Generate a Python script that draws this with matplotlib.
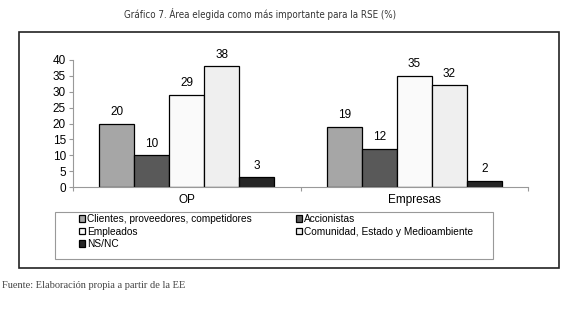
import matplotlib.pyplot as plt
import numpy as np
from matplotlib.patches import Rectangle

# data
groups = ['OP', 'Empresas']
series = ['Clientes, proveedores, competidores', 'Accionistas', 'Empleados',
          'Comunidad, Estado y Medioambiente', 'NS/NC']
op_vals = [20, 10, 29, 38, 3]
emp_vals = [19, 12, 35, 32, 2]
colors = ['#a6a6a6', '#595959', '#fafafa', '#efefef', '#262626']

W, H = 580, 310
fig = plt.figure(figsize=(5.8, 3.1), dpi=100)
plt.rcParams['font.family'] = ['Liberation Sans', 'DejaVu Sans']

def px(x0, y0, x1, y1):
    # pixel box -> figure fraction [left, bottom, width, height]
    return [x0 / W, 1 - y1 / H, (x1 - x0) / W, (y1 - y0) / H]

def box(x0, y0, x1, y1, **kw):
    fig.patches.append(Rectangle((x0 / W, 1 - y1 / H), (x1 - x0) / W, (y1 - y0) / H,
                                 transform=fig.transFigure, fill=False, **kw))

# outer frame + legend frame
box(19, 32, 559, 268, edgecolor='#222222', lw=1.2)
box(55, 212, 493, 259, edgecolor='#999999', lw=0.8)

ax = fig.add_axes(px(73, 60, 528, 187))
vals = np.array([op_vals, emp_vals])
n = len(series)
bw = 0.77 / n
x = np.arange(len(groups))
for i in range(n):
    pos = x - 0.385 + bw * (i + 0.5)
    bars = ax.bar(pos, vals[:, i], bw, color=colors[i], edgecolor='black',
                  lw=0.9, label=series[i])
    for b, v in zip(bars, vals[:, i]):
        ax.annotate(str(v), (b.get_x() + b.get_width() / 2, v), xytext=(0, 4),
                    textcoords='offset points', ha='center', va='bottom', fontsize=8.5)

ax.set_xlim(-0.5, 1.5)
ax.set_ylim(0, 40)
ax.set_yticks(range(0, 41, 5))
ax.set_xticks([-0.5, 0.5, 1.5])
ax.set_xticklabels([])
ax.tick_params(axis='x', length=3, color='#999999')
ax.tick_params(axis='y', length=3, color='#999999', labelsize=8.5, pad=2)
for g, xx in zip(groups, x):
    ax.text(xx, -2.2, g, ha='center', va='top', fontsize=8.5)
for s in ['top', 'right']:
    ax.spines[s].set_visible(False)
for s in ['left', 'bottom']:
    ax.spines[s].set_color('#999999')

# legend, row-major order with 2 columns
h, l = ax.get_legend_handles_labels()
order = [0, 2, 4, 1, 3]
leg = fig.legend([h[k] for k in order], [l[k] for k in order], ncol=2,
                 loc='upper left', bbox_to_anchor=(76 / W, 1 - 211 / H),
                 fontsize=7.3, frameon=False,
                 handlelength=0.6, handleheight=0.6, handletextpad=0.2,
                 columnspacing=4.3, labelspacing=0.25, borderpad=0.3,
                 borderaxespad=0)

fig.text(260 / W, 1 - 14 / H, 'Gráfico 7. Área elegida como más importante para la RSE (%)',
         ha='center', va='center', fontsize=7.0, color='#333333',
         family='DejaVu Sans', fontstretch='condensed')
fig.text(2 / W, 1 - 285 / H, 'Fuente: Elaboración propia a partir de la EE',
         ha='left', va='center', fontsize=7.5, color='#444444',
         family=['Liberation Serif', 'DejaVu Serif'])

fig.savefig('out.png', dpi=100)
